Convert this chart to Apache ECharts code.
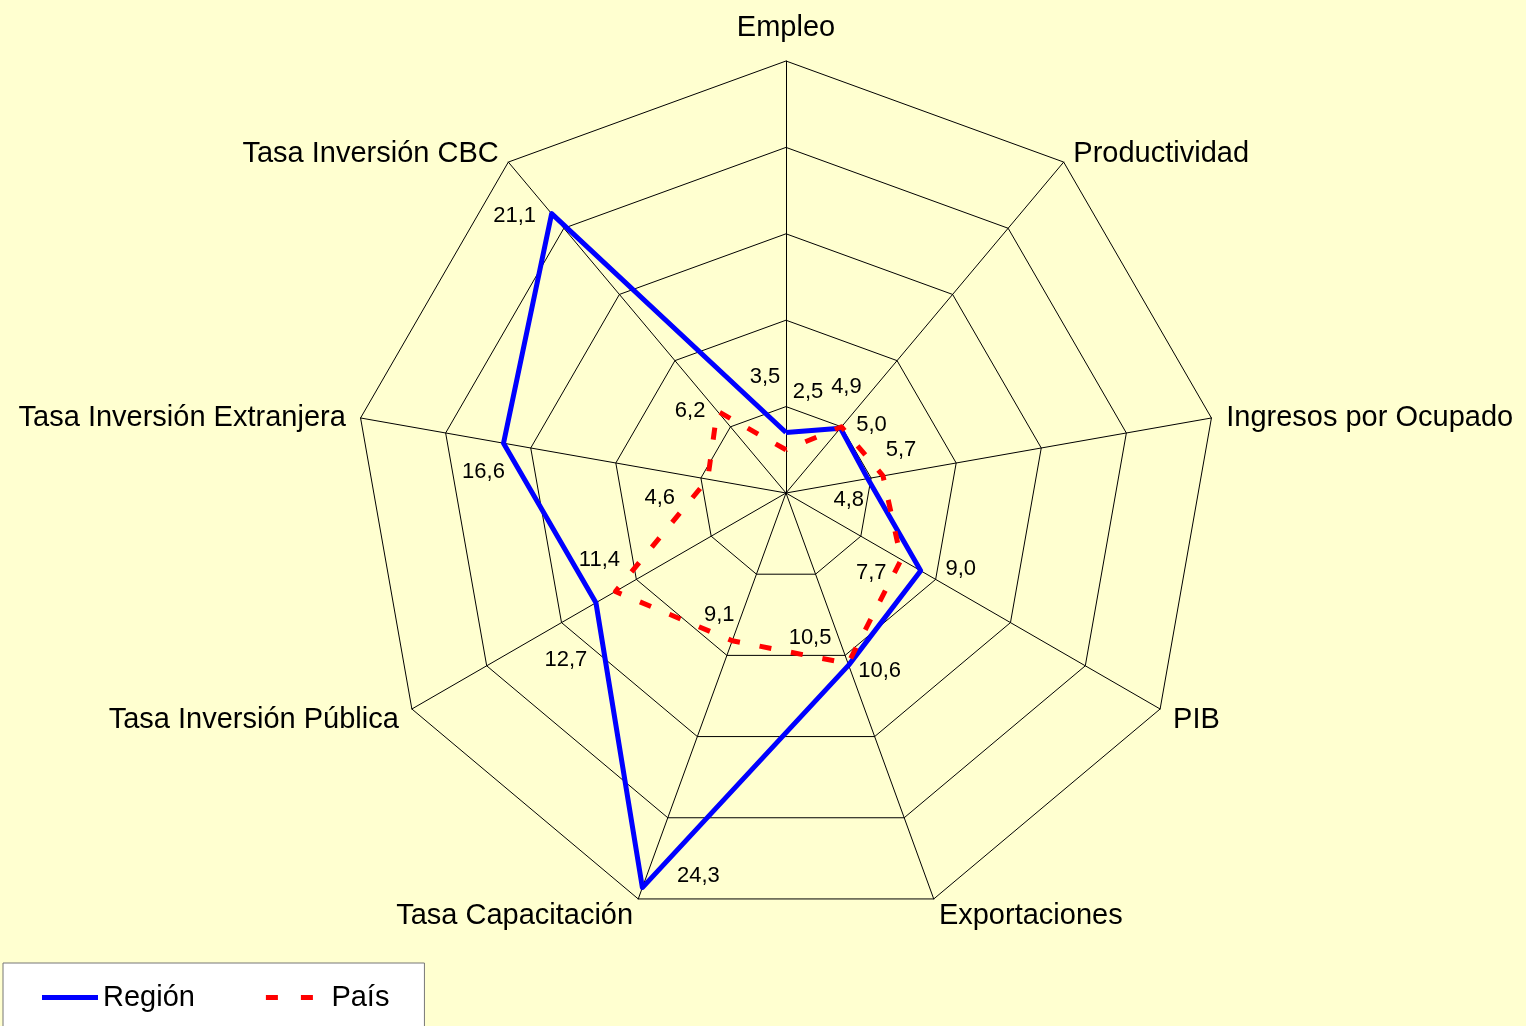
<!DOCTYPE html>
<html>
<head>
<meta charset="utf-8">
<script src="https://cdn.jsdelivr.net/npm/echarts@6/dist/echarts.min.js"></script>
<style>
html,body{margin:0;padding:0;background:#FFFFD0;}
#chart{width:1526px;height:1026px;}
</style>
</head>
<body>
<div id="chart"></div>
<script>
// ---- data (clockwise from top) ----
const indicators = ['Empleo','Productividad','Ingresos por Ocupado','PIB','Exportaciones','Tasa Capacitación','Tasa Inversión Pública','Tasa Inversión Extranjera','Tasa Inversión CBC'];
const region = [3.5, 4.9, 4.8, 9.0, 10.6, 24.3, 12.7, 16.6, 21.1];
const pais = [2.5, 5.0, 5.7, 7.7, 10.5, 9.1, 11.4, 4.6, 6.2];
const seriesNames = ['Región', 'País'];
const axisMax = 25;

// ---- label placement (styling) ----
const regionLabelOffsets = [[-21,-56],[6,-41],[-19,21],[40,-2],[31,6],[56,-12],[-30,57],[-20,29],[-37,2]];
const paisLabelOffsets = [[22,-58],[30,-2],[18,-26],[-30,13],[-38,-26],[-13,-26],[-16,-32],[-48,19],[-27,0]];

const FONT = '"Liberation Sans", Arial, sans-serif';
const CENTER = [786, 493];
const RADIUS = 432;
const step = 360 / indicators.length;
// ECharts radar lays indicators counter-clockwise; reorder so they read clockwise
const order = [0].concat(indicators.map((_, i) => i).slice(1).reverse());
const fmt = v => v.toFixed(1).replace('.', ',');

function labelData(vals, offs) {
  return vals.map((v, i) => ({ value: [v, i * step], label: { offset: offs[i] } }));
}
const valueLabel = {
  show: true, position: 'inside', color: '#000000', fontSize: 22, fontFamily: FONT,
  textBorderWidth: 0, textShadowBlur: 0, opacity: 1,
  formatter: p => fmt(p.value[0])
};

const chart = echarts.init(document.getElementById('chart'));
chart.setOption({
  backgroundColor: '#FFFFD0',
  animation: false,
  radar: {
    center: CENTER,
    radius: RADIUS,
    shape: 'polygon',
    splitNumber: 5,
    startAngle: 90,
    indicator: order.map(i => ({ name: indicators[i], min: 0, max: axisMax })),
    axisName: {
      color: '#000', fontSize: 29, fontFamily: FONT, padding: [0, 0, 4, 0],
      formatter: n => '{a|' + n + '}',
      rich: { a: { color: '#000', fontSize: 29, fontFamily: FONT, padding: [10, 0, 0, 0] } }
    },
    nameGap: 15,
    axisLine: { lineStyle: { color: '#000', width: 1 } },
    splitLine: { lineStyle: { color: '#000', width: 1 } },
    splitArea: { show: false },
    axisTick: { show: false },
    axisLabel: { show: false }
  },
  polar: { center: CENTER, radius: RADIUS },
  radiusAxis: { type: 'value', min: 0, max: axisMax, show: false },
  angleAxis: { type: 'value', min: 0, max: 360, startAngle: 90, clockwise: true, show: false },
  legend: {
    left: 3, top: 963,
    orient: 'horizontal',
    padding: [20, 35, 60, 39],
    backgroundColor: '#FFFFFF',
    borderColor: '#777',
    borderWidth: 1,
    borderRadius: 0,
    itemWidth: 56, itemHeight: 5,
    itemGap: 71,
    itemStyle: { borderWidth: 0 },
    textStyle: { color: '#000', fontSize: 29, fontFamily: FONT },
    data: [
      { name: seriesNames[0], icon: 'path://M0,0h56v5h-56z' },
      { name: seriesNames[1], icon: 'path://M0,0h12v5h-12z M35,0h12v5h-12z', textStyle: { padding: [0, 0, 0, 9] } }
    ]
  },
  series: [
    {
      type: 'radar', name: seriesNames[0], color: '#0000FF', symbol: 'none',
      lineStyle: { color: '#0000FF', width: 5, type: 'solid' },
      data: [{ name: seriesNames[0], value: order.map(i => region[i]) }],
      z: 3
    },
    {
      type: 'radar', name: seriesNames[1], color: '#FF0000', symbol: 'none',
      lineStyle: { color: '#FF0000', width: 5, type: [12, 20] },
      data: [{ name: seriesNames[1], value: order.map(i => pais[i]) }],
      z: 4
    },
    {
      type: 'scatter', coordinateSystem: 'polar', symbolSize: 0, silent: true,
      itemStyle: { color: '#000000', opacity: 1 },
      label: valueLabel,
      data: labelData(region, regionLabelOffsets), z: 5
    },
    {
      type: 'scatter', coordinateSystem: 'polar', symbolSize: 0, silent: true,
      itemStyle: { color: '#000000', opacity: 1 },
      label: valueLabel,
      data: labelData(pais, paisLabelOffsets), z: 5
    }
  ]
});
</script>
</body>
</html>
